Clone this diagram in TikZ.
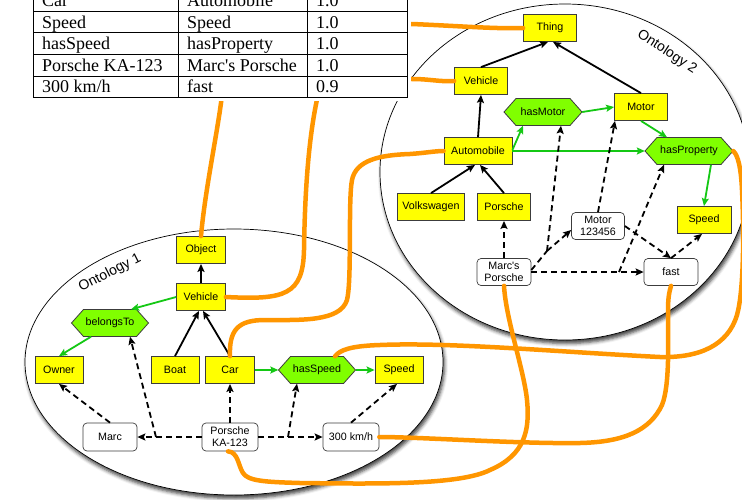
\documentclass[tikz,border=0pt]{standalone}
\usepackage{fontspec}
\setmainfont{Liberation Sans}
\newfontfamily\tabfont{Liberation Serif}
\usetikzlibrary{arrows.meta,calc,shadows.blur}

\definecolor{boxyellow}{RGB}{255,255,0}
\definecolor{propgreen}{RGB}{128,255,0}
\definecolor{linkgreen}{RGB}{20,200,20}
\definecolor{matchorange}{RGB}{255,150,0}
\definecolor{edgegray}{RGB}{60,60,60}

\newcommand\nodefont{\fontsize{10.7}{12}\selectfont}

\tikzset{
  cls/.style={draw=edgegray, line width=0.8pt, fill=boxyellow, minimum height=27pt,
    inner sep=0pt, font=\nodefont},
  inst/.style={draw=edgegray, line width=0.7pt, fill=white, rounded corners=4pt,
    minimum height=27pt, inner sep=0pt, align=center, font=\nodefont},
  hexlabel/.style={minimum height=27pt, inner sep=0pt, font=\nodefont},
  hexshape/.style={draw=edgegray, line width=0.8pt, fill=propgreen},
  isa/.style={line width=1.8pt, -{Stealth[length=8pt,width=7pt,inset=1.5pt]}},
  rel/.style={isa, linkgreen},
  fact/.style={isa, dash pattern=on 6pt off 4pt},
  factline/.style={line width=1.8pt, dash pattern=on 6pt off 4pt},
  match/.style={draw=matchorange, line width=4.5pt, line cap=round},
  onto/.style={draw=black, line width=0.7pt, fill=white,
    blur shadow={shadow xshift=1.5pt, shadow yshift=-3.5pt, shadow blur radius=3.5pt,
      shadow opacity=75}},
  tabcell/.style={anchor=base west, inner sep=0pt, font=\tabfont\fontsize{18}{18}\selectfont},
  ontolabel/.style={font=\fontsize{14}{14}\selectfont, inner sep=0pt},
}

% hexagonal property node: name, centre (x,y without brackets), half width, text
\newcommand\hexnode[4]{%
  \filldraw[hexshape] ([shift={(-#3,0)}]#2) -- ([shift={(-#3+12,-13.5)}]#2)
    -- ([shift={(#3-12,-13.5)}]#2) -- ([shift={(#3,0)}]#2)
    -- ([shift={(#3-12,13.5)}]#2) -- ([shift={(-#3+12,13.5)}]#2) -- cycle;
  \node[hexlabel, minimum width=2*#3] (#1) at (#2) {#4};
}

\begin{document}
\begin{tikzpicture}[x=1pt, y=-1pt]
\useasboundingbox (0,0) rectangle (742,499);

% the two ontologies
\path[onto] (565,172) ellipse [x radius=185pt, y radius=168pt];
\path[onto] (234,362) ellipse [x radius=209pt, y radius=133pt];

\node[ontolabel, rotate=-33] (lab2) at (667,52) {Ontology 2};
\node[ontolabel, rotate=27] (lab1) at (110,273) {Ontology 1};

% ---- Ontology 2 ----
\node[cls, minimum width=53pt] (thing) at (550,28) {Thing};
\node[cls, minimum width=53pt] (veh2) at (481,81) {Vehicle};
\hexnode{hasmotor}{543,112}{39}{hasMotor}
\node[cls, minimum width=53pt] (motor) at (641,107) {Motor};
\node[cls, minimum width=68pt] (auto) at (478,151) {Automobile};
\hexnode{hasprop}{689,151}{44}{hasProperty}
\node[cls, minimum width=67pt] (vw) at (431,207) {Volkswagen};
\node[cls, minimum width=53pt] (porsche) at (504,207) {Porsche};
\node[inst, minimum width=53pt] (mi) at (598,226) {Motor\\123456};
\node[cls, minimum width=54pt] (speed2) at (704,220) {Speed};
\node[inst, minimum width=54pt] (mp) at (504,272) {Marc\textquotesingle s\\Porsche};
\node[inst, minimum width=54pt] (fast) at (671,272) {fast};

\draw[isa] (veh2.north) -- ([xshift=-2pt]thing.south);
\draw[isa] (motor.north) -- ([xshift=3pt]thing.south);
\draw[isa] (auto.north) -- (veh2.south);
\draw[isa] (vw.north) -- ([xshift=-3pt]auto.south);
\draw[isa] (porsche.north) -- ([xshift=2pt]auto.south);

\draw[rel] ([yshift=1pt]auto.east) -- ([xshift=-20pt]hasmotor.south);
\draw[rel] (auto.east) -- (hasprop.west);
\draw[rel] (hasmotor.east) -- (motor.west);
\draw[rel] (motor.south) -- ([xshift=-22pt]hasprop.north);
\draw[rel] ([xshift=22pt]hasprop.south) -- (speed2.north);

\coordinate (k1) at (547,251);
\coordinate (k2) at (619,272);
\draw[fact] (mp.north) -- (porsche.south);
\draw[factline] ([yshift=2pt]mp.east) -- (k1);
\draw[fact] (k1) -- ([yshift=-4pt]mi.west);
\draw[fact] (k1) -- ([xshift=18pt]hasmotor.south);
\draw[fact] (mp.east) -- (fast.west);
\draw[fact] (k2) -- ([xshift=-25pt]hasprop.south);
\draw[fact] (mi.north) -- ([xshift=-26pt]motor.south);
\draw[fact] (mi.east) -- (fast.north);
\draw[fact] (fast.north) -- ([xshift=-2pt]speed2.south);

% ---- Ontology 1 ----
\node[cls, minimum width=49pt] (obj) at (201,250) {Object};
\node[cls, minimum width=49pt] (veh1) at (201,297) {Vehicle};
\hexnode{belongs}{110,323}{38.5}{belongsTo}
\node[cls, minimum width=48pt] (owner) at (59,370) {Owner};
\node[cls, minimum width=48pt] (boat) at (175,370) {Boat};
\node[cls, minimum width=49pt] (car) at (230,370) {Car};
\hexnode{hasspeed}{317,370}{38.5}{hasSpeed}
\node[cls, minimum width=48pt] (speed1) at (399,370) {Speed};
\node[inst, minimum width=54pt, minimum height=28pt] (marc) at (110,437) {Marc};
\node[inst, minimum width=56pt, minimum height=28pt] (pk) at (230,437) {Porsche\\KA-123};
\node[inst, minimum width=56pt, minimum height=28pt] (kmh) at (351,437) {300 km/h};

\draw[isa] (veh1.north) -- (obj.south);
\draw[isa] (boat.north) -- ([xshift=-2pt]veh1.south);
\draw[isa] (car.north) -- ([xshift=2pt]veh1.south);

\draw[rel] (veh1.west) -- ([xshift=21pt]belongs.north);
\draw[rel] ([xshift=-19pt]belongs.south) -- (owner.north);
\draw[rel] (car.east) -- (hasspeed.west);
\draw[rel] (hasspeed.east) -- (speed1.west);

\coordinate (k3) at (156,437);
\coordinate (k4) at (288,437);
\draw[fact] (marc.north) -- (owner.south);
\draw[fact] (pk.west) -- (marc.east);
\draw[fact] (k3) -- ([xshift=20pt]belongs.south);
\draw[fact] (pk.north) -- (car.south);
\draw[fact] (pk.east) -- (kmh.west);
\draw[fact] (k4) -- ([xshift=-20pt]hasspeed.south);
\draw[fact] (kmh.north) -- ([xshift=-2pt]speed1.south);

% ---- correspondences between the ontologies ----
\draw[match] (obj.north) .. controls (205,190) and (218,130) .. (222,95)
  .. controls (226,50) and (350,24) .. (412,24)
  .. controls (460,26) and (495,29) .. (thing.west);
\draw[match] (veh1.east) .. controls (285,300) and (303,295) .. (304,250)
  .. controls (305,180) and (310,130) .. (318,95)
  .. controls (330,60) and (380,79) .. (412,79)
  .. controls (430,79) and (440,82) .. (veh2.west);
\draw[match] (car.north) .. controls (229,330) and (238,320) .. (265,320)
  .. controls (300,320) and (340,322) .. (347,300)
  .. controls (352,280) and (348,200) .. (352,180)
  .. controls (356,160) and (380,155) .. (410,154)
  .. controls (425,153) and (435,151) .. (auto.west);
\draw[match] ([xshift=18pt]hasspeed.north) .. controls (340,350) and (350,346) .. (380,345)
  .. controls (450,342) and (560,352) .. (660,357)
  .. controls (700,358) and (728,345) .. (737,315)
  .. controls (744,290) and (744,230) .. (742,190)
  .. controls (741,168) and (738,155) .. (hasprop.east);
\draw[match] ([xshift=-2pt]pk.south) .. controls (238,452) and (238,465) .. (243,473)
  .. controls (248,481) and (265,482) .. (300,483)
  .. controls (380,484) and (460,485) .. (490,470)
  .. controls (525,455) and (530,430) .. (527,400)
  .. controls (524,370) and (506,320) .. (mp.south);
\draw[match] (kmh.east) .. controls (420,437) and (520,444) .. (580,443)
  .. controls (625,442) and (650,430) .. (662,405)
  .. controls (670,385) and (668,340) .. (668,310)
  .. controls (668,295) and (670,290) .. (fast.south);

% ---- alignment table ----
\fill[white] (29,-15) rectangle (411,101);
\draw[line width=0.9pt] (33,-15) -- (33,97) -- (407,97) -- (407,-15);
\foreach \ry in {11,32.5,54,76} \draw[line width=0.8pt] (33,\ry) -- (407,\ry);
\draw[line width=0.8pt] (178,-15) -- (178,97);
\draw[line width=0.8pt] (307,-15) -- (307,97);

\node[tabcell] (r0a) at (42,6.5) {Car};
\node[tabcell] (r0b) at (187,6.5) {Automobile};
\node[tabcell] (r0c) at (316,6.5) {1.0};
\node[tabcell] (r1a) at (42,28) {Speed};
\node[tabcell] (r1b) at (187,28) {Speed};
\node[tabcell] (r1c) at (316,28) {1.0};
\node[tabcell] (r2a) at (42,49.5) {hasSpeed};
\node[tabcell] (r2b) at (187,49.5) {hasProperty};
\node[tabcell] (r2c) at (316,49.5) {1.0};
\node[tabcell] (r3a) at (42,71.5) {Porsche KA-123};
\node[tabcell] (r3b) at (187,71.5) {Marc\textquotesingle s Porsche};
\node[tabcell] (r3c) at (316,71.5) {1.0};
\node[tabcell] (r4a) at (42,92.5) {300 km/h};
\node[tabcell] (r4b) at (187,92.5) {fast};
\node[tabcell] (r4c) at (316,92.5) {0.9};
\end{tikzpicture}
\end{document}
